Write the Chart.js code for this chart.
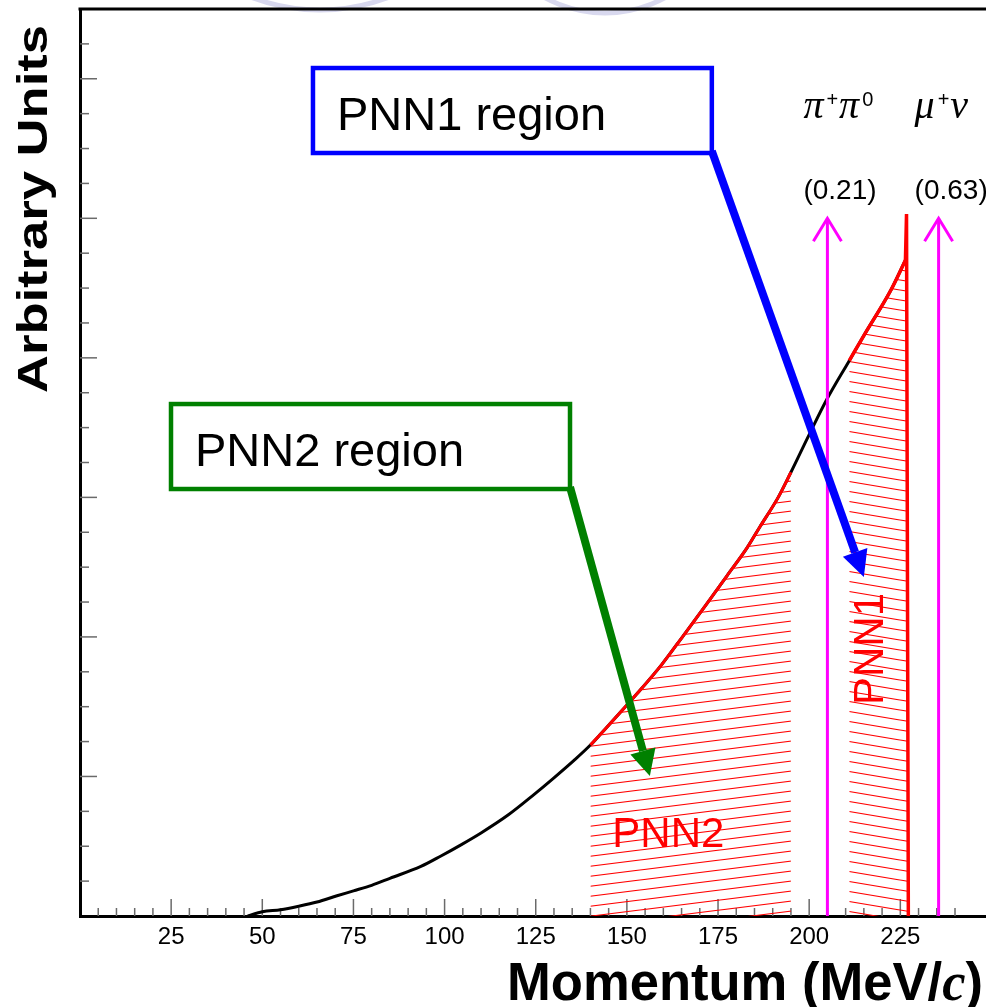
<!DOCTYPE html>
<html>
<head>
<meta charset="utf-8">
<script src="https://cdn.jsdelivr.net/npm/chart.js@4.4.1/dist/chart.umd.min.js"></script>
<style>
html, body { margin: 0; padding: 0; background: #fff; }
canvas { display: block; }
</style>
</head>
<body>
<canvas id="c" width="986" height="1007"></canvas>
<script>
// momentum spectrum (MeV/c) and height in arbitrary units
const momentum = [46, 50, 55, 60, 65, 70.5, 75, 80, 85, 93.5, 99, 104.5, 110, 117.5, 124.5, 130, 135.5,
                  140, 143, 153, 159.5, 165.5, 172, 177.5, 183, 186.5, 191.5, 195,
                  200, 205, 211, 215, 222.5, 226.4];
const counts   = [0.0, 0.03, 0.045, 0.07, 0.10, 0.145, 0.18, 0.22, 0.27, 0.355, 0.43, 0.51, 0.595, 0.725, 0.87, 0.99, 1.115,
                  1.225, 1.31, 1.60, 1.80, 2.01, 2.24, 2.44, 2.64, 2.79, 3.00, 3.18,
                  3.45, 3.71, 3.98, 4.16, 4.49, 4.70];
// sharp end-point spike of the spectrum
const edgeMomentum = [226.4, 226.7, 227.2];
const edgeCounts   = [4.70, 5.03, 0];

const pnn2Range = [140, 195];
const pnn1Range = [211, 227.2];

// two-body decay lines
const decayMomentum = [205, 235.5];
const decayHeight   = [5.0, 5.0];
const decayNames    = [['π', '+', 'π', '0'], ['μ', '+', 'ν']];
const decayBR       = ['(0.21)', '(0.63)'];

const xMin = 0, xMax = 248.5, xMinor = 5, xMajor = 25;
const yMin = 0, yMax = 6.5, yMinor = 0.25, yMajor = 1;

// annotation boxes (in axis units)
const boxes = [
    { text: 'PNN1 region', color: '#0000ff', x0: 63.9, x1: 173.3, y0: 6.077, y1: 5.468, tip: [215.0, 2.43] },
    { text: 'PNN2 region', color: '#008000', x0: 24.96, x1: 134.4, y0: 3.669, y1: 3.060, tip: [156.3, 1.003] }
];

const canvas = document.getElementById('c');
const mainCtx = canvas.getContext('2d');

function pts(a, b) {
    const out = [];
    momentum.forEach((m, i) => { if (m >= a && m <= b) out.push({ x: m, y: counts[i] }); });
    return out;
}

function hatch(w, h, rising) {
    const c = document.createElement('canvas');
    c.width = w; c.height = h;
    const g = c.getContext('2d');
    g.strokeStyle = '#ff0000';
    g.lineWidth = 1.1;
    [-h, 0, h].forEach(o => {
        g.beginPath();
        if (rising) { g.moveTo(0, h + o); g.lineTo(w, o); }
        else { g.moveTo(0, o); g.lineTo(w, h + o); }
        g.stroke();
    });
    return mainCtx.createPattern(c, 'repeat');
}

function seg(ctx, x0, y0, x1, y1) {
    ctx.beginPath(); ctx.moveTo(x0, y0); ctx.lineTo(x1, y1); ctx.stroke();
}

function arrow(ctx, x0, y0, x1, y1, color) {
    const a = Math.atan2(y1 - y0, x1 - x0);
    const hl = 26, hw = 13;
    const bx = x1 - hl * Math.cos(a), by = y1 - hl * Math.sin(a);
    ctx.strokeStyle = color; ctx.fillStyle = color;
    ctx.lineWidth = 8; ctx.lineCap = 'butt';
    seg(ctx, x0, y0, bx, by);
    ctx.beginPath();
    ctx.moveTo(x1, y1);
    ctx.lineTo(bx + hw * Math.sin(a), by - hw * Math.cos(a));
    ctx.lineTo(bx - hw * Math.sin(a), by + hw * Math.cos(a));
    ctx.closePath();
    ctx.fill();
}

const onStep = (v, s) => Math.abs(v / s - Math.round(v / s)) < 1e-6;

const decor = {
    id: 'decor',
    beforeDraw(chart) {
        // faint remains of the slide logo above the frame
        const ctx = chart.ctx;
        ctx.save();
        ctx.strokeStyle = '#d8d8ee';
        ctx.lineWidth = 5;
        ctx.beginPath(); ctx.arc(320, -182, 192, 0, Math.PI); ctx.stroke();
        ctx.beginPath(); ctx.arc(605, -112, 125, 0, Math.PI); ctx.stroke();
        ctx.restore();
    },
    beforeDatasetsDraw(chart) {
        const { ctx, chartArea: a, scales: { x, y } } = chart;
        ctx.save();
        ctx.strokeStyle = '#6a6a6a';
        ctx.lineWidth = 1.5;
        x.ticks.forEach(t => {
            if (t.value <= xMin || !onStep(t.value, xMinor)) return;
            const px = x.getPixelForValue(t.value);
            seg(ctx, px, a.bottom, px, a.bottom - (onStep(t.value, xMajor) ? 17 : 8));
        });
        y.ticks.forEach(t => {
            if (t.value <= yMin || t.value >= yMax || !onStep(t.value, yMinor)) return;
            const py = y.getPixelForValue(t.value);
            seg(ctx, a.left, py, a.left + (onStep(t.value, yMajor) ? 17 : 9), py);
        });
        ctx.strokeStyle = '#000';
        ctx.lineWidth = 3;
        seg(ctx, a.left - 1.5, a.top, a.right, a.top);
        ctx.restore();
    },
    afterDatasetsDraw(chart) {
        const { ctx, scales: { x, y } } = chart;
        ctx.save();

        // decay arrows + labels
        decayMomentum.forEach((p, i) => {
            const px = x.getPixelForValue(p), py = y.getPixelForValue(decayHeight[i]);
            ctx.strokeStyle = '#ff00ff';
            ctx.lineWidth = 3;
            ctx.lineJoin = 'miter';
            ctx.beginPath();
            ctx.moveTo(px - 14, py + 23); ctx.lineTo(px, py); ctx.lineTo(px + 14, py + 23);
            ctx.stroke();

            ctx.fillStyle = '#000';
            ctx.textBaseline = 'alphabetic';
            ctx.textAlign = 'left';
            let cx = px - 24;
            decayNames[i].forEach((part, k) => {
                if (k % 2 === 0) {
                    ctx.font = 'italic 40px "Liberation Serif"';
                    ctx.fillText(part, cx, 118);
                } else {
                    ctx.font = '20px "Liberation Sans"';
                    ctx.fillText(part, cx + 2, 106);
                }
                cx += ctx.measureText(part).width + (k % 2 === 0 ? 1 : 3);
            });
            ctx.font = '28px "Liberation Sans"';
            ctx.fillText(decayBR[i], px - 24, 199);
        });

        // region boxes and arrows
        boxes.forEach(b => {
            const l = x.getPixelForValue(b.x0), r = x.getPixelForValue(b.x1);
            const t = y.getPixelForValue(b.y0), btm = y.getPixelForValue(b.y1);
            arrow(ctx, r, btm - 2, x.getPixelForValue(b.tip[0]), y.getPixelForValue(b.tip[1]), b.color);
            ctx.fillStyle = '#fff';
            ctx.fillRect(l, t, r - l, btm - t);
            ctx.strokeStyle = b.color;
            ctx.lineWidth = 4.5;
            ctx.lineJoin = 'miter';
            ctx.strokeRect(l, t, r - l, btm - t);
            ctx.fillStyle = '#000';
            ctx.font = '47px "Liberation Sans"';
            ctx.textAlign = 'left';
            ctx.fillText(b.text, l + 24, btm - 23);
        });

        // region labels
        ctx.fillStyle = '#ff0000';
        ctx.font = '42px "Liberation Sans"';
        ctx.fillText('PNN2', x.getPixelForValue(146), y.getPixelForValue(0.494));
        ctx.save();
        ctx.translate(x.getPixelForValue(220.2), y.getPixelForValue(1.512));
        ctx.rotate(-Math.PI / 2);
        ctx.fillText('PNN1', 0, 0);
        ctx.restore();

        // axis titles
        ctx.fillStyle = '#000';
        ctx.save();
        ctx.font = 'bold 42px "Liberation Sans"';
        const yt = 'Arbitrary Units';
        const sy = 368 / ctx.measureText(yt).width;
        ctx.translate(47, 209);
        ctx.rotate(-Math.PI / 2);
        ctx.scale(sy, 1);
        ctx.textAlign = 'center';
        ctx.fillText(yt, 0, 0);
        ctx.restore();

        const parts = [['Momentum (MeV/', 'bold 54px "Liberation Sans"'], ['c', 'bold italic 54px "Liberation Serif"'], [')', 'bold 54px "Liberation Sans"']];
        let total = 0;
        parts.forEach(p => { ctx.font = p[1]; total += ctx.measureText(p[0]).width; });
        const sx = 476 / total;
        ctx.save();
        ctx.translate(983 - 476, 1000);
        ctx.scale(sx, 1);
        ctx.textAlign = 'left';
        let cx = 0;
        parts.forEach(p => { ctx.font = p[1]; ctx.fillText(p[0], cx, 0); cx += ctx.measureText(p[0]).width; });
        ctx.restore();

        ctx.restore();
    }
};

const smooth = { cubicInterpolationMode: 'monotone' };
const pnn1Data = pts(pnn1Range[0], pnn1Range[1]);
edgeMomentum.slice(1).forEach((m, i) => pnn1Data.push({ x: m, y: edgeCounts[i + 1] }));

const datasets = [
    { label: 'edge', data: edgeMomentum.map((m, i) => ({ x: m, y: edgeCounts[i] })),
      borderColor: '#ff0000', borderWidth: 3.5, fill: false, order: 0 },
    Object.assign({ label: 'PNN1', data: pts(pnn1Range[0], pnn1Range[1]), borderColor: '#ff0000', borderWidth: 3.5,
      fill: false, order: 1 }, smooth),
    { label: 'PNN1 area', data: pnn1Data, borderWidth: 0, borderColor: 'rgba(0,0,0,0)',
      fill: 'origin', backgroundColor: hatch(60, 10, false), order: 4 },
    Object.assign({ label: 'PNN2', data: pts(pnn2Range[0], pnn2Range[1]), borderColor: '#ff0000', borderWidth: 3,
      fill: 'origin', backgroundColor: hatch(80, 10, true), order: 1 }, smooth)
];
decayMomentum.forEach((p, i) => {
    datasets.push({ label: decayBR[i], data: [{ x: p, y: 0 }, { x: p, y: decayHeight[i] }],
                    borderColor: '#ff00ff', borderWidth: 3, fill: false, order: 2 });
});
datasets.push(Object.assign({ label: 'spectrum', data: momentum.map((m, i) => ({ x: m, y: counts[i] })),
                borderColor: '#000', borderWidth: 3, fill: false, order: 3 }, smooth));

new Chart(canvas, {
    type: 'line',
    data: { datasets: datasets },
    options: {
        responsive: false,
        animation: false,
        devicePixelRatio: 1,
        layout: { padding: { top: 9, right: 0, left: 0, bottom: 0 } },
        elements: { point: { radius: 0 }, line: { tension: 0 } },
        plugins: { legend: { display: false }, tooltip: { enabled: false } },
        scales: {
            x: {
                type: 'linear', min: xMin, max: xMax,
                border: { color: '#000', width: 3 },
                grid: { drawOnChartArea: false, drawTicks: false },
                ticks: {
                    stepSize: xMinor, autoSkip: false, maxRotation: 0, padding: 7,
                    color: '#000', font: { family: 'Liberation Sans', size: 24 },
                    callback: v => (v > 0 && onStep(v, xMajor)) ? String(v) : ''
                },
                afterFit: s => { s.height = 91; s.paddingLeft = 0; s.paddingRight = 0; }
            },
            y: {
                type: 'linear', min: yMin, max: yMax,
                border: { color: '#000', width: 3 },
                grid: { drawOnChartArea: false, drawTicks: false },
                ticks: { stepSize: yMinor, display: false },
                afterFit: s => { s.width = 80; s.paddingTop = 0; s.paddingBottom = 0; }
            }
        }
    },
    plugins: [decor]
});
</script>
</body>
</html>
